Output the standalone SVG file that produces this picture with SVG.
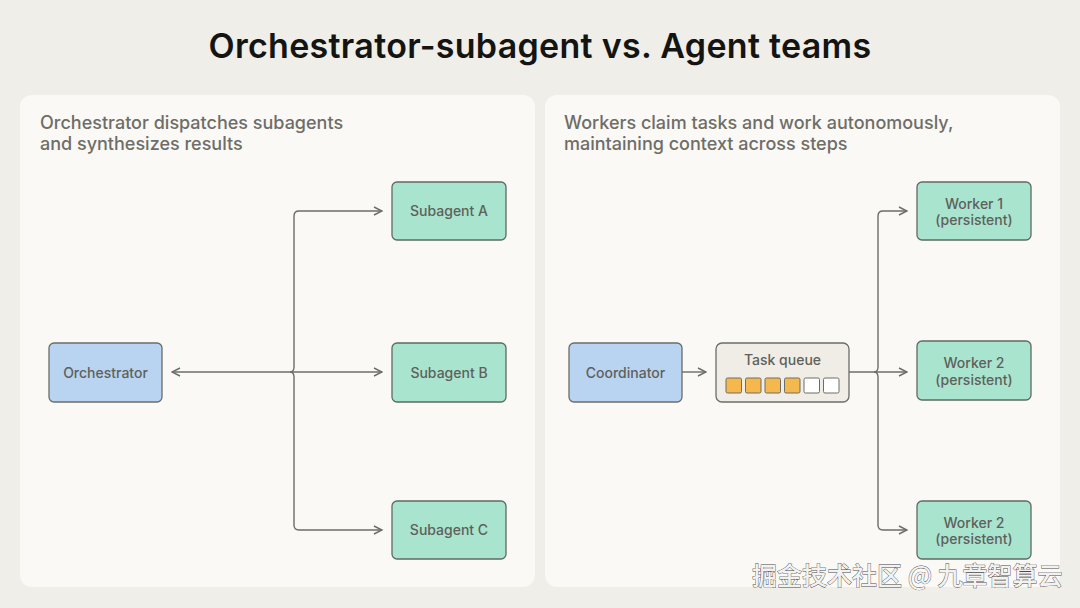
<svg xmlns="http://www.w3.org/2000/svg" width="1080" height="608" viewBox="0 0 1080 608">
<defs>
<style>
.panel{fill:#faf9f5}
.title{font-family:Inter,"Liberation Sans",sans-serif;font-size:34px;font-weight:600;fill:#141413;letter-spacing:0.3px}
.sub{font-family:Inter,"Liberation Sans",sans-serif;font-size:18px;font-weight:500;fill:#6e6d68}
.lbl{font-family:Inter,"Liberation Sans",sans-serif;font-size:14px;font-weight:500;fill:#5f605b;text-anchor:middle}
.blue{fill:#b8d4f1;stroke:#6c6c68;stroke-width:1.3}
.green{fill:#a9e4cf;stroke:#5f6a66;stroke-width:1.3}
.queue{fill:#efede5;stroke:#6c6c68;stroke-width:1.3}
.full{fill:#f4b84c;stroke:#6c6c68;stroke-width:1}
.empty{fill:#ffffff;stroke:#6c6c68;stroke-width:1}
.line{fill:none;stroke:#6c6c68;stroke-width:1.4}
.wm{font-family:"Noto Sans CJK SC","Liberation Sans",sans-serif;font-size:25px;font-weight:500;fill:#f2f2f2;stroke:#4a4a4a;stroke-width:0.8;paint-order:stroke}
</style>
<marker id="arr" viewBox="0 0 10 10" refX="9" refY="5" markerWidth="10" markerHeight="10" markerUnits="userSpaceOnUse" orient="auto-start-reverse">
<path d="M1,1 L9,5 L1,9" fill="none" stroke="#6c6c68" stroke-width="1.4"/>
</marker>
</defs>
<rect width="1080" height="608" fill="#efeee8"/>
<text class="title" x="540" y="58" text-anchor="middle">Orchestrator-subagent vs. Agent teams</text>
<rect class="panel" x="20" y="95" width="515" height="492" rx="12"/>
<rect class="panel" x="545" y="95" width="515" height="492" rx="12"/>
<text class="sub" x="40" y="129">Orchestrator dispatches subagents</text>
<text class="sub" x="40" y="150">and synthesizes results</text>
<text class="sub" x="564" y="129">Workers claim tasks and work autonomously,</text>
<text class="sub" x="564" y="150">maintaining context across steps</text>

<g id="connectors">
<path class="line" d="M294,372 H172" marker-end="url(#arr)"/>
<path class="line" d="M294,372 H382" marker-end="url(#arr)"/>
<path class="line" d="M382,211 H299 Q294,211 294,216 V367 Q294,372 290,372 Q294,372 294,377 V525 Q294,530 299,530 H382" marker-start="url(#arr)" marker-end="url(#arr)"/>
<path class="line" d="M682,372 H706" marker-end="url(#arr)"/>
<path class="line" d="M849,372 H907" marker-end="url(#arr)"/>
<path class="line" d="M907,211 H883 Q878,211 878,216 V367 Q878,372 874,372 Q878,372 878,377 V525 Q878,530 883,530 H907" marker-start="url(#arr)" marker-end="url(#arr)"/>
</g>

<g id="orchestrator"><rect class="blue" x="49" y="343" width="113" height="59" rx="5"/><text class="lbl" x="105.5" y="377.5">Orchestrator</text></g>
<g id="subagent-a"><rect class="green" x="392" y="182" width="114" height="58" rx="5"/><text class="lbl" x="449" y="216">Subagent A</text></g>
<g id="subagent-b"><rect class="green" x="392" y="343" width="114" height="59" rx="5"/><text class="lbl" x="449" y="377.5">Subagent B</text></g>
<g id="subagent-c"><rect class="green" x="392" y="501" width="114" height="58" rx="5"/><text class="lbl" x="449" y="535">Subagent C</text></g>

<g id="coordinator"><rect class="blue" x="569" y="343" width="113" height="59" rx="5"/><text class="lbl" x="625.5" y="377.5">Coordinator</text></g>
<g id="task-queue"><rect class="queue" x="716" y="343" width="133" height="59" rx="6"/><text class="lbl" x="782.5" y="365">Task queue</text>
<rect class="full" x="726" y="378" width="15.5" height="15" rx="1.5"/>
<rect class="full" x="745.5" y="378" width="15.5" height="15" rx="1.5"/>
<rect class="full" x="765" y="378" width="15.5" height="15" rx="1.5"/>
<rect class="full" x="784.5" y="378" width="15.5" height="15" rx="1.5"/>
<rect class="empty" x="804" y="378" width="15.5" height="15" rx="1.5"/>
<rect class="empty" x="823.5" y="378" width="15.5" height="15" rx="1.5"/>
</g>
<g id="worker-1"><rect class="green" x="917" y="182" width="114" height="58" rx="5"/><text class="lbl" x="974" y="209">Worker 1</text><text class="lbl" x="974" y="225">(persistent)</text></g>
<g id="worker-2a"><rect class="green" x="917" y="341" width="114" height="59" rx="5"/><text class="lbl" x="974" y="368">Worker 2</text><text class="lbl" x="974" y="385">(persistent)</text></g>
<g id="worker-2b"><rect class="green" x="917" y="501" width="114" height="58" rx="5"/><text class="lbl" x="974" y="528">Worker 2</text><text class="lbl" x="974" y="544">(persistent)</text></g>

<text class="wm" x="752" y="585">掘金技术社区 @ 九章智算云</text>
</svg>
